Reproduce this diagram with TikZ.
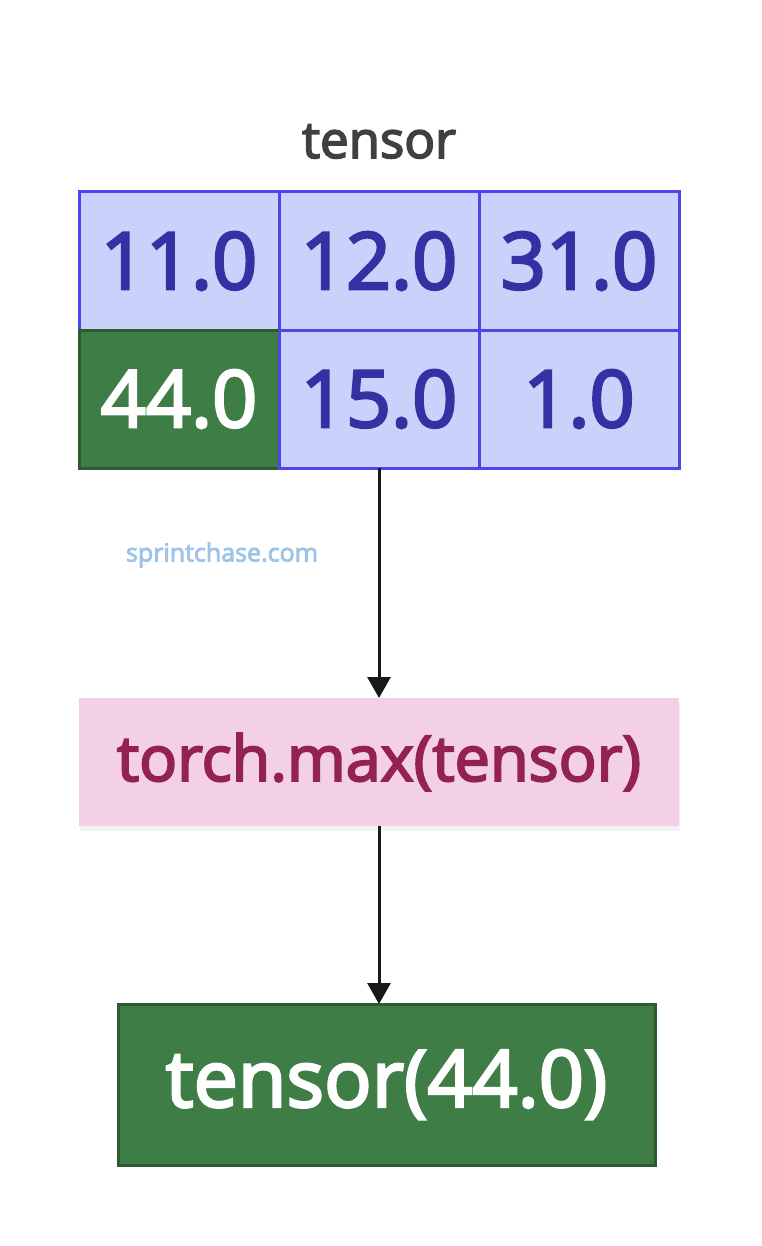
\documentclass[tikz,border=0pt]{standalone}
\usepackage{fontspec}
\setmainfont{Open Sans}[FakeBold=3.2]
\usepackage{tikz}
\usetikzlibrary{%
  positioning, arrows.meta, shadows
}
\usepackage{xcolor}
\definecolor{gridLine}{HTML}{4F46E5}
\definecolor{gridFill}{HTML}{C9D2FB}
\definecolor{gridText}{HTML}{3730A3}
\definecolor{maxGreen}{HTML}{3E7D45}
\definecolor{maxGreenLine}{HTML}{2D5A33}
\definecolor{opFill}{HTML}{F4D0E7}
\definecolor{opText}{HTML}{93224F}
\definecolor{markBlue}{HTML}{9DC3E6}
\tikzstyle{cell} = [%
  rectangle,
  draw=gridLine,
  fill=gridFill,
  line width=3pt,
  outer sep=0pt,
  minimum width=200pt,
  minimum height=138pt,
  text=gridText,
  text centered,
  font=\fontsize{79}{86}\selectfont
]

\begin{document}
\begin{tikzpicture}[%
  x=1pt, y=1pt,
  flow/.style={%
    -{Triangle[length=21pt,width=23pt]},
    line width=3pt,
    draw=black!90
  },
  every node/.style={%
    text centered,
    align=center
  },
  hit/.style={%
    fill=maxGreen,
    draw=maxGreenLine,
    text=white
  },
  opbox/.style={%
    rectangle,
    fill=opFill,
    outer sep=0pt,
    minimum width=600pt,
    minimum height=128pt,
    text=opText,
    font=\fontsize{63}{69}\selectfont,
    drop shadow={opacity=0.10,shadow xshift=1pt,shadow yshift=-5pt}
  }
]
  \useasboundingbox (0,0) rectangle (761,-1246);

  % Nodes
  \node[cell] (A11) at (179,-261) {11.0};
  \node[cell,right=0pt of A11] (A12) {12.0};
  \node[cell,right=0pt of A12] (A13) {31.0};
  \node[cell,hit,below=0pt of A11] (A21) {44.0};
  \node[cell,below=0pt of A12] (A22) {15.0};
  \node[cell,below=0pt of A13] (A23) {1.0};
  \draw[draw=maxGreenLine,line width=3pt] (A21.north west) -- (A21.north east);
  \node[above=30pt of A12,text=black!75,font=\fontsize{51}{56}\selectfont] (title) {tensor};
  \node[text=markBlue,font=\fontsize{25}{30}\selectfont] (mark) at (222,-555) {sprintchase.com};
  \node[opbox,below=230pt of A22] (op) {torch.max(tensor)};
  \node[rectangle,hit,line width=3pt,outer sep=0pt,minimum width=537pt,minimum height=161pt,
        font=\fontsize{79}{86}\selectfont,below=178pt of op,xshift=7.5pt] (res) {tensor(44.0)};

  % Edges
  \draw[flow] (A22.south) -- (op.north);
  \draw[flow] (op.south) -- (op.south |- res.north);

\end{tikzpicture}
\end{document}
